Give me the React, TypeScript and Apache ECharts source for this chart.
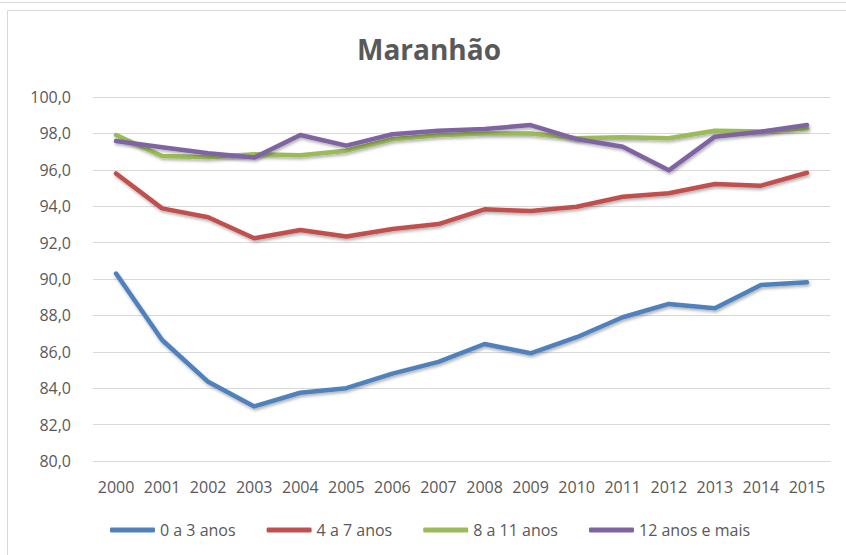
import React, { useEffect, useRef } from "react";
import * as echarts from "echarts";

const years = ["2000","2001","2002","2003","2004","2005","2006","2007","2008","2009","2010","2011","2012","2013","2014","2015"];
const s0a3 = [90.3, 86.65, 84.35, 83.0, 83.75, 84.0, 84.8, 85.45, 86.43, 85.92, 86.8, 87.9, 88.63, 88.39, 89.67, 89.82];
const s4a7 = [95.8, 93.88, 93.39, 92.24, 92.69, 92.33, 92.75, 93.02, 93.83, 93.74, 93.97, 94.52, 94.71, 95.22, 95.13, 95.84];
const s8a11 = [97.91, 96.76, 96.69, 96.85, 96.8, 97.05, 97.68, 97.9, 98.0, 98.0, 97.73, 97.79, 97.73, 98.15, 98.1, 98.28];
const s12 = [97.58, 97.24, 96.91, 96.67, 97.91, 97.33, 97.95, 98.15, 98.24, 98.46, 97.69, 97.27, 95.97, 97.82, 98.09, 98.46];
const seriesNames = ["0 a 3 anos", "4 a 7 anos", "8 a 11 anos", "12 anos e mais"];
const colors = ["#4F81BD", "#C0504D", "#9BBB59", "#8064A2"];
const yMin = 80;
const yMax = 100;
const yStep = 2;

const FONT = "'Open Sans', sans-serif";
const TXT = "#595959";

export default function App() {
  const ref = useRef<HTMLDivElement>(null);
  useEffect(() => {
    if (!ref.current) return;
    const chart = echarts.init(ref.current, null, { renderer: "svg" });
    const data = [s0a3, s4a7, s8a11, s12];
    chart.setOption({
      animation: false,
      backgroundColor: "#ffffff",
      title: {
        text: "Maranhão",
        left: 357,
        top: 35,
        padding: 0,
        textStyle: { fontFamily: FONT, fontSize: 28, fontWeight: "bold", color: TXT },
      },
      graphic: [
        { type: "line", shape: { x1: 0, y1: 2.5, x2: 846, y2: 2.5 }, style: { stroke: "#D9D9D9", lineWidth: 1 } },
        { type: "rect", shape: { x: 7.5, y: 10.5, width: 900, height: 600 }, style: { stroke: "#D9D9D9", fill: "none", lineWidth: 1 }, z: -1 },
      ],
      legend: {
        left: 110,
        top: 522,
        padding: 0,
        itemWidth: 45,
        itemHeight: 5,
        itemGap: 31,
        icon: "roundRect",
        textStyle: { fontFamily: FONT, fontSize: 16, color: TXT },
        data: seriesNames,
      },
      grid: { left: 93, right: 16, top: 97, bottom: 94, containLabel: false },
      xAxis: {
        type: "category",
        data: years,
        boundaryGap: true,
        axisLine: { lineStyle: { color: "#D9D9D9", width: 1 } },
        axisTick: { show: false },
        axisLabel: { fontFamily: FONT, fontSize: 16, color: TXT, margin: 18, interval: 0 },
        splitLine: { show: false },
      },
      yAxis: {
        type: "value",
        min: yMin,
        max: yMax,
        interval: yStep,
        axisLine: { show: false },
        axisTick: { show: false },
        axisLabel: {
          fontFamily: FONT,
          fontSize: 16,
          color: TXT,
          margin: 22,
          formatter: (v: number) => v.toFixed(1).replace(".", ","),
        },
        splitLine: { lineStyle: { color: "#D9D9D9", width: 1 } },
      },
      series: data.map((d, i) => ({
        name: seriesNames[i],
        type: "line",
        data: d,
        symbol: "none",
        color: colors[i],
        lineStyle: {
          width: 4.5,
          color: colors[i],
          cap: "round",
          join: "round",
          shadowColor: "rgba(0,0,0,0.3)",
          shadowBlur: 3,
          shadowOffsetX: 1,
          shadowOffsetY: 2,
        },
        itemStyle: { color: colors[i] },
        z: 2 + i,
      })),
    });
    return () => chart.dispose();
  }, []);
  return (
    <div
      ref={ref}
      style={{ position: "fixed", left: 0, top: 0, width: 846, height: 555 }}
    />
  );
}
